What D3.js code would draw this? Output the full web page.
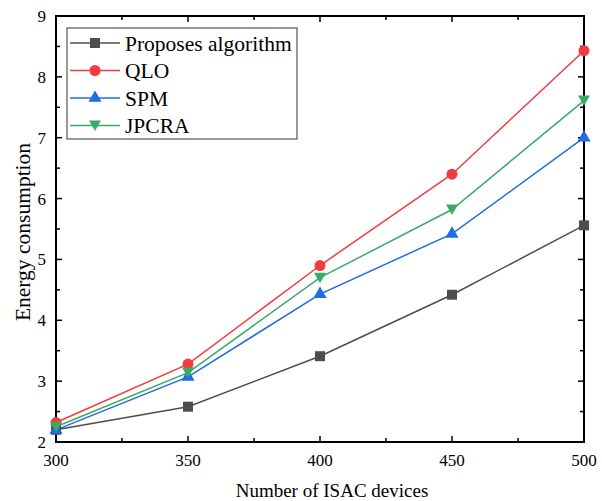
<!DOCTYPE html>
<html>
<head>
<meta charset="utf-8">
<script src="https://cdn.jsdelivr.net/npm/d3@7"></script>
<style>
  body { margin: 0; background: #fff; }
  svg text { font-family: "Liberation Serif", "Times New Roman", serif; }
</style>
</head>
<body>
<div class="chart"></div>
<script>
// data
var devices = [300, 350, 400, 450, 500];
var proposed = [2.2, 2.58, 3.41, 4.42, 5.56];
var qlo = [2.32, 3.28, 4.9, 6.4, 8.43];
var spm = [2.2, 3.07, 4.43, 5.42, 7.0];
var jpcra = [2.25, 3.14, 4.7, 5.82, 7.61];
var seriesNames = ["Proposes algorithm", "QLO", "SPM", "JPCRA"];
var seriesColors = ["#4d4d4d", "#f23b3f", "#1f6de0", "#3aaa69"];
var seriesShapes = [d3.symbolSquare, d3.symbolCircle, d3.symbolTriangle, "down"];
var xTicks = [300, 350, 400, 450, 500];
var yTicks = [2, 3, 4, 5, 6, 7, 8, 9];

var svgWidth = 602;
var svgHeight = 501;
var margin = { top: 16, right: 18, bottom: 59, left: 56 };
var width = svgWidth - margin.left - margin.right;
var height = svgHeight - margin.top - margin.bottom;

var svg = d3.select(".chart")
  .append("svg")
  .attr("width", svgWidth)
  .attr("height", svgHeight);

var chart = svg.append("g")
  .attr("transform", "translate(" + margin.left + "," + margin.top + ")");

var x = d3.scaleLinear().domain([300, 500]).range([0, width]);
var y = d3.scaleLinear().domain([2, 9]).range([height, 0]);

var xMinor = d3.range(325, 500, 50);
var yMinor = d3.range(2.5, 9, 1);

// ticks pointing inward, on all four sides
function tickLines(vals, len, axis) {
  vals.forEach(function(v) {
    if (axis === "x") {
      chart.append("line").attr("x1", x(v)).attr("x2", x(v)).attr("y1", height).attr("y2", height - len);
      chart.append("line").attr("x1", x(v)).attr("x2", x(v)).attr("y1", 0).attr("y2", len);
    } else {
      chart.append("line").attr("y1", y(v)).attr("y2", y(v)).attr("x1", 0).attr("x2", len);
      chart.append("line").attr("y1", y(v)).attr("y2", y(v)).attr("x1", width).attr("x2", width - len);
    }
  });
}
tickLines(xTicks, 6, "x");
tickLines(xMinor, 4, "x");
tickLines(yTicks, 6, "y");
tickLines(yMinor, 4, "y");
chart.selectAll("line").attr("stroke", "#000").attr("stroke-width", 1.5);

chart.append("rect")
  .attr("width", width).attr("height", height)
  .attr("fill", "none").attr("stroke", "#000").attr("stroke-width", 2);

// tick labels
chart.selectAll(".xlab").data(xTicks).enter().append("text")
  .attr("x", function(d) { return x(d); })
  .attr("y", height + 24)
  .attr("text-anchor", "middle")
  .style("font-size", "17px")
  .text(function(d) { return d; });

chart.selectAll(".ylab").data(yTicks).enter().append("text")
  .attr("x", -10)
  .attr("y", function(d) { return y(d) + 6; })
  .attr("text-anchor", "end")
  .style("font-size", "17px")
  .text(function(d) { return d; });

// axis titles
svg.append("text")
  .attr("x", 332)
  .attr("y", 497)
  .attr("text-anchor", "middle")
  .style("font-size", "19px")
  .text("Number of ISAC devices");

svg.append("text")
  .attr("transform", "translate(30,232) rotate(-90)")
  .attr("text-anchor", "middle")
  .style("font-size", "21.5px")
  .text("Energy consumption");

function markerPath(shape) {
  if (shape === "down") {
    return "M-6,-5L6,-5L0,5.5z";
  }
  return d3.symbol().type(shape).size(shape === d3.symbolTriangle ? 75 : (shape === d3.symbolCircle ? 95 : 100))();
}

var line = d3.line()
  .x(function(d, i) { return x(devices[i]); })
  .y(function(d) { return y(d); });

var allSeries = [proposed, qlo, spm, jpcra];

allSeries.forEach(function(vals, k) {
  chart.append("path")
    .datum(vals)
    .attr("d", line)
    .attr("fill", "none")
    .attr("stroke", seriesColors[k])
    .attr("stroke-width", 1.5);
});

allSeries.forEach(function(vals, k) {
  chart.selectAll(".m" + k).data(vals).enter().append("path")
    .attr("d", markerPath(seriesShapes[k]))
    .attr("transform", function(d, i) { return "translate(" + x(devices[i]) + "," + y(d) + ")"; })
    .attr("fill", seriesColors[k]);
});

// legend
var legend = svg.append("g").attr("transform", "translate(67,28)");
legend.append("rect")
  .attr("width", 230).attr("height", 111)
  .attr("fill", "#fff").attr("stroke", "#333").attr("stroke-width", 1);

seriesNames.forEach(function(name, k) {
  var row = legend.append("g").attr("transform", "translate(0," + (15 + k * 27.5) + ")");
  row.append("line")
    .attr("x1", 3).attr("x2", 53)
    .attr("stroke", seriesColors[k]).attr("stroke-width", 1.5);
  row.append("path")
    .attr("d", markerPath(seriesShapes[k]))
    .attr("transform", "translate(28,0)")
    .attr("fill", seriesColors[k]);
  row.append("text")
    .attr("x", 58).attr("y", 7.5)
    .style("font-size", "21.5px")
    .text(name);
});
</script>
</body>
</html>
